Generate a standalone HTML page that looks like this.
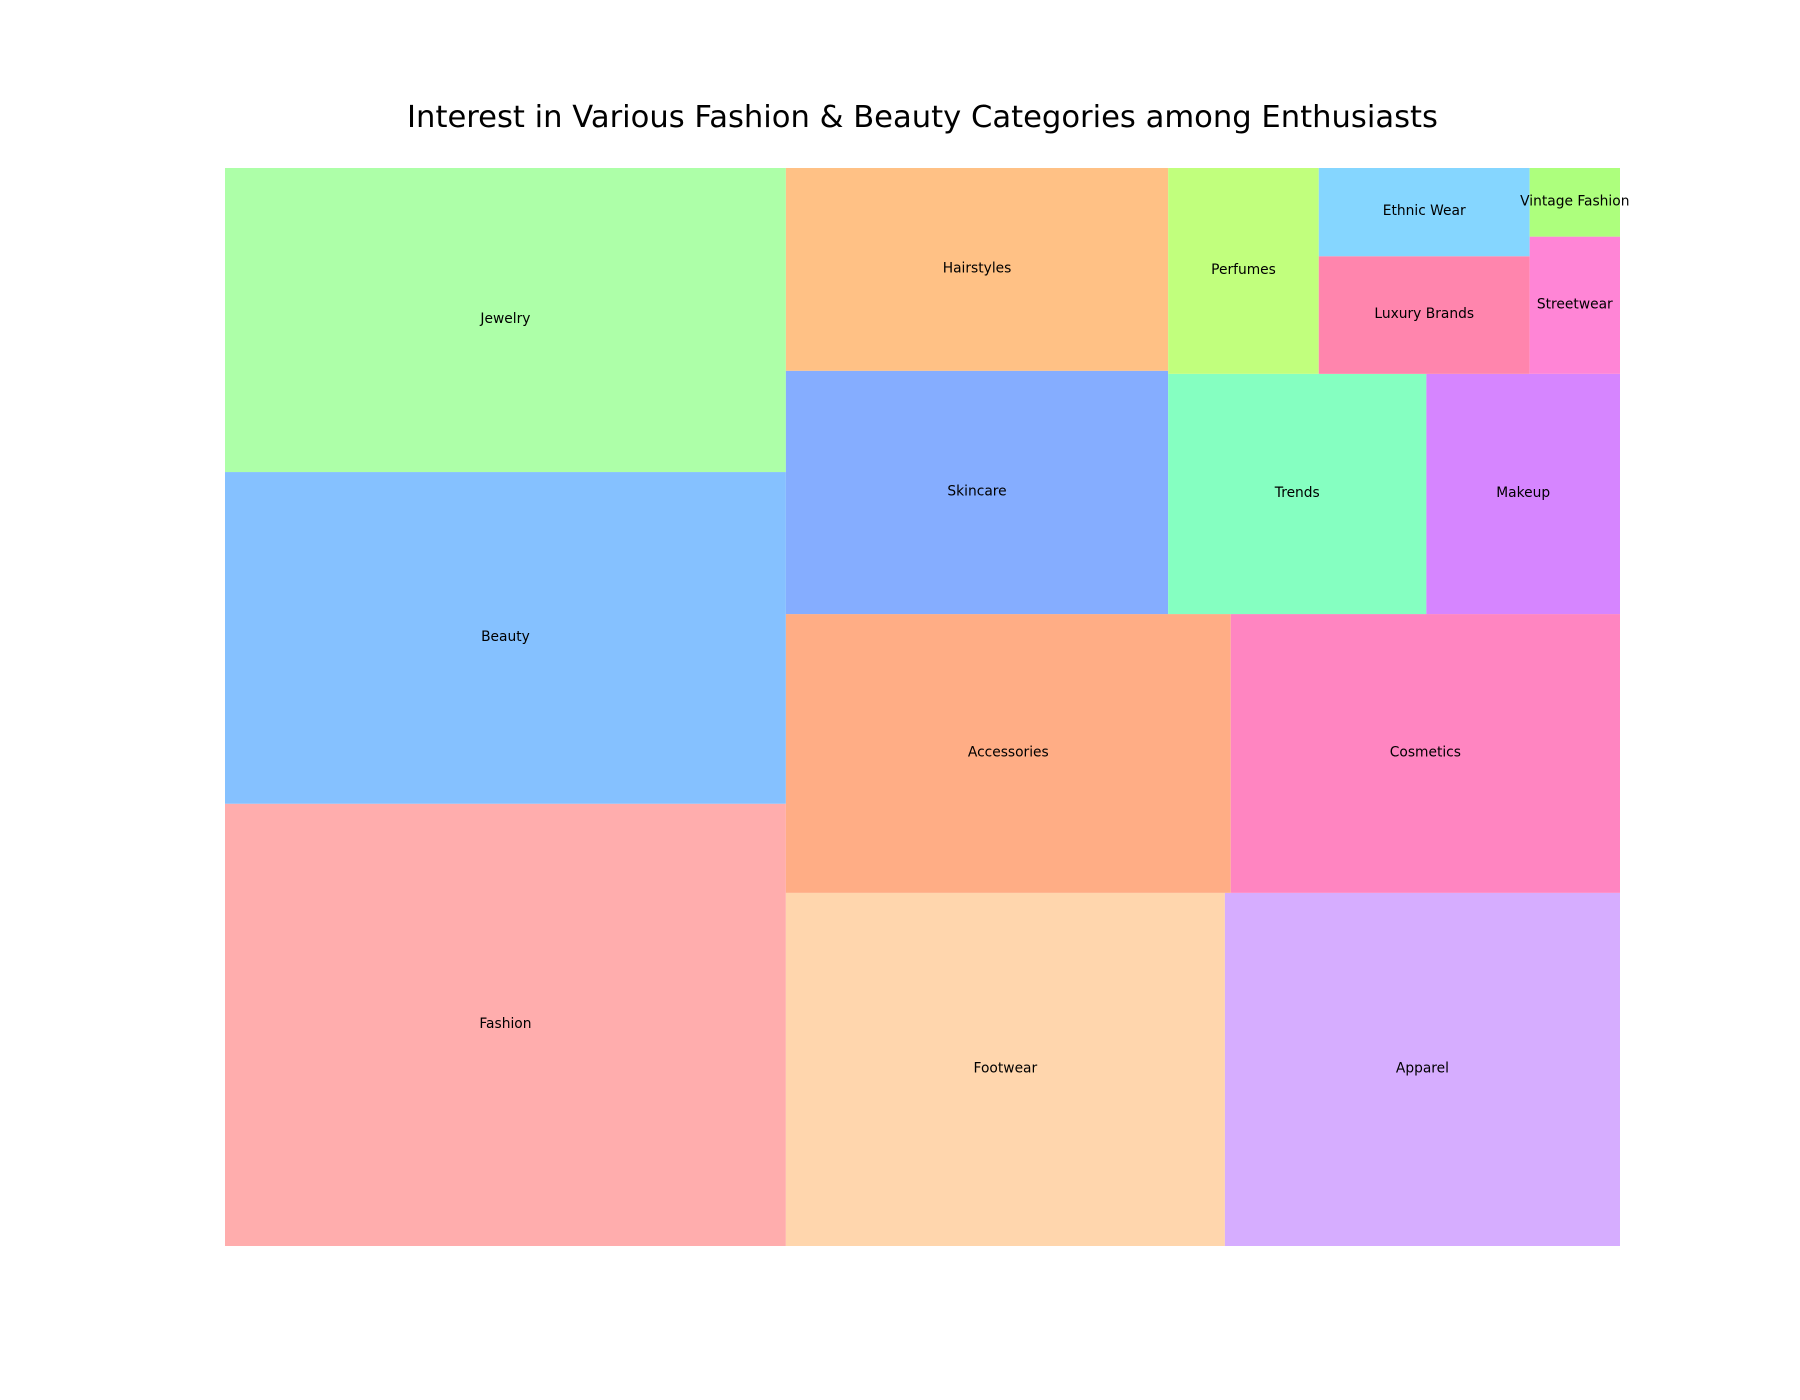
<!DOCTYPE html>
<html><head><meta charset="utf-8">
<style>
html,body{margin:0;padding:0;background:#fff;}
svg{display:block;font-family:"DejaVu Sans","Liberation Sans",sans-serif;}
</style></head>
<body>
<svg id="chart" width="1800" height="1400" viewBox="0 0 1800 1400">
<text x="922.5" y="127" text-anchor="middle" font-size="30.6" fill="#000">Interest in Various Fashion &amp; Beauty Categories among Enthusiasts</text>
<g id="cells"></g>
</svg>
<script>
const categories = ["Fashion","Beauty","Jewelry","Footwear","Apparel","Accessories","Cosmetics","Skincare","Hairstyles","Trends","Makeup","Perfumes","Luxury Brands","Ethnic Wear","Streetwear","Vintage Fashion"];
const values = [40,30,27.5,25,22.5,20,17.5,15,12.5,10,7.5,5,4,3,2,1];
const colors = ["#ffadad","#85c1ff","#adffa8","#ffd6ad","#d6adff","#ffad85","#ff85c1","#85adff","#ffc185","#85ffc1","#d685ff","#c1ff7d","#ff85ad","#85d6ff","#ff85d6","#adff7d"];

const AX = {x0:225, x1:1620, y0:168, y1:1246};
function sx(v){return AX.x0 + v/100*(AX.x1-AX.x0);}
function sy(v){return AX.y1 - v/100*(AX.y1-AX.y0);}

function layoutrow(s,x,y,dx,dy){const a=s.reduce((p,c)=>p+c,0);const w=a/dy;const r=[];for(const z of s){r.push({x:x,y:y,dx:w,dy:z/w});y+=z/w;}return r;}
function layoutcol(s,x,y,dx,dy){const a=s.reduce((p,c)=>p+c,0);const h=a/dx;const r=[];for(const z of s){r.push({x:x,y:y,dx:z/h,dy:h});x+=z/h;}return r;}
function layout(s,x,y,dx,dy){return dx>=dy?layoutrow(s,x,y,dx,dy):layoutcol(s,x,y,dx,dy);}
function leftover(s,x,y,dx,dy){const a=s.reduce((p,c)=>p+c,0);if(dx>=dy){const w=a/dy;return [x+w,y,dx-w,dy];}const h=a/dx;return [x,y+h,dx,dy-h];}
function worst(s,x,y,dx,dy){return Math.max(...layout(s,x,y,dx,dy).map(r=>Math.max(r.dx/r.dy,r.dy/r.dx)));}
function squarify(s,x,y,dx,dy){
  if(s.length===0)return [];
  if(s.length===1)return layout(s,x,y,dx,dy);
  let i=1;
  while(i<s.length && worst(s.slice(0,i),x,y,dx,dy)>=worst(s.slice(0,i+1),x,y,dx,dy)) i++;
  const cur=s.slice(0,i), rem=s.slice(i);
  const [lx,ly,ldx,ldy]=leftover(cur,x,y,dx,dy);
  return layout(cur,x,y,dx,dy).concat(squarify(rem,lx,ly,ldx,ldy));
}
const total = values.reduce((p,c)=>p+c,0);
const norm = values.map(v=>v*100*100/total);
const rects = squarify(norm,0,0,100,100);
const g = document.getElementById('cells');
const NS = "http://www.w3.org/2000/svg";
rects.forEach((r,i)=>{
  const px=sx(r.x), py=sy(r.y+r.dy), pw=sx(r.x+r.dx)-px, ph=sy(r.y)-py;
  const rect=document.createElementNS(NS,'rect');
  rect.setAttribute('x',px);rect.setAttribute('y',py);rect.setAttribute('width',pw);rect.setAttribute('height',ph);
  rect.setAttribute('fill',colors[i]);
  
  
  g.appendChild(rect);
  const t=document.createElementNS(NS,'text');
  t.setAttribute('x',px+pw/2);t.setAttribute('y',py+ph/2+3);
  t.setAttribute('text-anchor','middle');t.setAttribute('font-size','13.8');t.setAttribute('fill','#000');
  t.textContent=categories[i];
  
  
  g.appendChild(t);
});
</script>
</body></html>
